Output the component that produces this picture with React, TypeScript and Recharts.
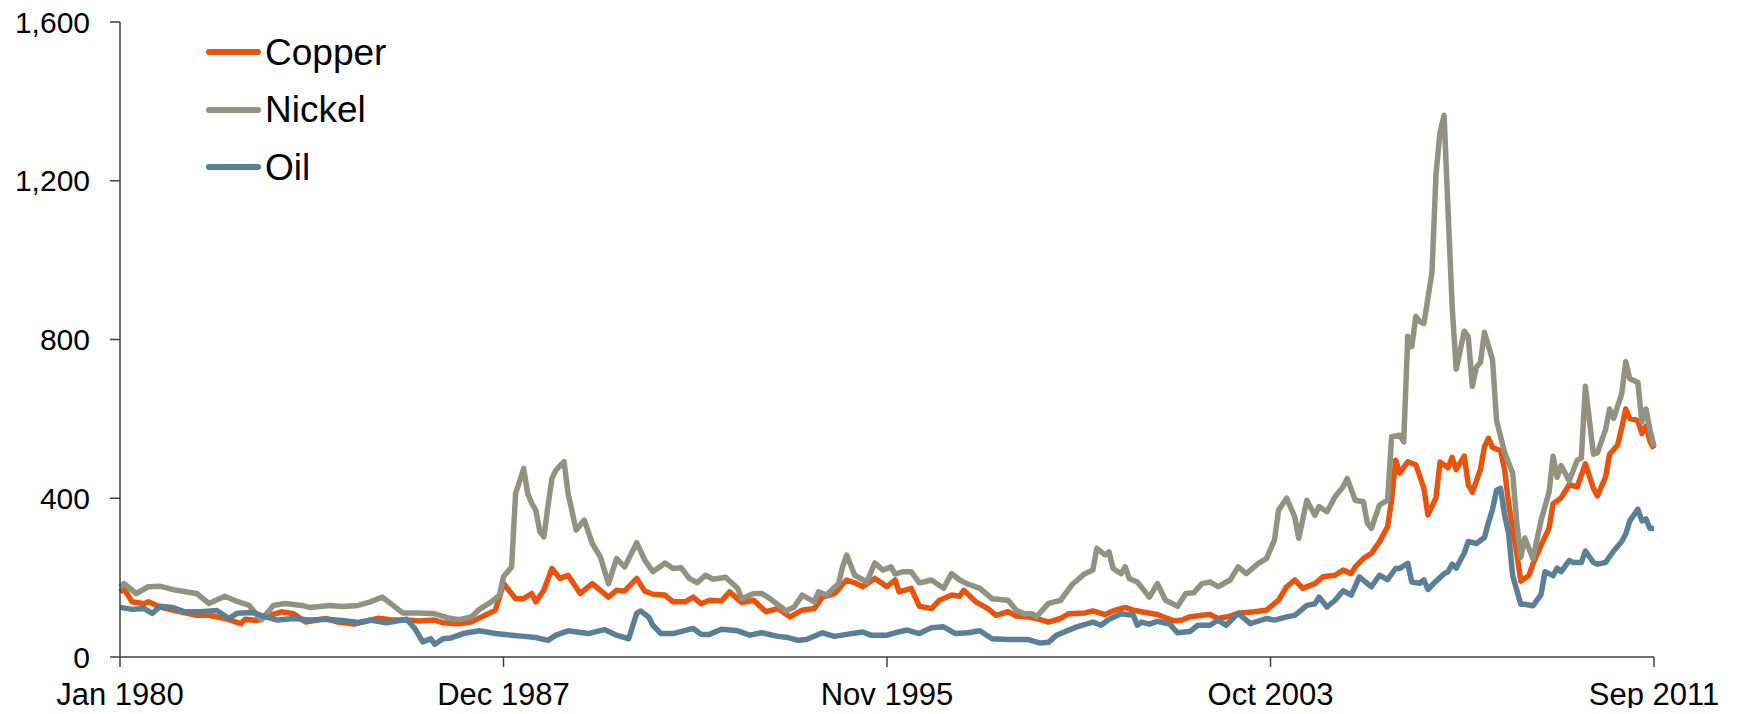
import { LineChart, Line, XAxis, YAxis } from 'recharts'

// month index counted from Jan 1980 (0) to Sep 2011 (380)
const TICK_MONTHS = [0, 95, 190, 285, 380]
const TICK_LABELS = ['Jan 1980', 'Dec 1987', 'Nov 1995', 'Oct 2003', 'Sep 2011']
const Y_TICKS = [0, 400, 800, 1200, 1600]

const copper: [number, number][] = [
  [0, 164], [1, 172], [3, 139], [6, 134], [7, 139], [10, 126], [15, 114], [19, 105], [22, 105],
  [26, 97], [30, 84], [31, 95], [34, 92], [36, 101], [40, 114], [43, 109], [46, 88], [51, 97],
  [54, 88], [58, 83], [61, 90], [64, 98], [67, 94], [71, 93], [74, 91], [78, 93], [80, 86],
  [84, 84], [87, 88], [90, 103], [93, 118], [95, 185], [98, 147], [100, 147], [102, 160],
  [103, 139], [105, 168], [107, 223], [109, 198], [111, 206], [114, 160], [117, 185], [119, 168],
  [121, 151], [123, 168], [125, 166], [128, 198], [130, 166], [132, 158], [135, 156], [137, 139],
  [140, 139], [142, 151], [144, 134], [146, 143], [149, 141], [151, 164], [154, 137], [157, 143],
  [160, 114], [163, 122], [166, 101], [169, 118], [172, 122], [174, 151], [177, 160], [180, 194],
  [182, 187], [184, 177], [187, 198], [190, 177], [192, 194], [193, 164], [196, 173], [198, 128],
  [201, 122], [203, 143], [206, 156], [208, 153], [209, 168], [212, 139], [215, 122], [217, 105],
  [220, 114], [222, 103], [225, 101], [228, 94], [230, 88], [233, 97], [235, 109], [239, 111],
  [241, 116], [244, 107], [246, 116], [249, 125], [251, 118], [253, 114], [257, 107], [259, 99],
  [261, 91], [263, 93], [265, 101], [268, 105], [270, 107], [272, 97], [275, 103], [277, 110],
  [281, 114], [284, 118], [287, 143], [289, 177], [291, 194], [293, 173], [296, 185], [298, 202],
  [301, 206], [303, 219], [305, 210], [306, 227], [308, 248], [310, 261], [312, 290], [314, 328],
  [315, 395], [316, 496], [317, 463], [319, 492], [321, 484], [322, 455], [323, 425], [324, 358],
  [326, 401], [327, 491], [329, 477], [330, 503], [331, 472], [333, 506], [334, 434], [335, 415],
  [337, 472], [338, 530], [339, 551], [340, 528], [342, 520], [343, 472], [344, 386], [346, 262],
  [347, 191], [349, 205], [350, 234], [352, 281], [354, 324], [355, 386], [357, 401], [359, 434],
  [361, 429], [363, 487], [365, 425], [366, 406], [368, 453], [369, 511], [371, 534], [372, 577],
  [373, 625], [374, 601], [376, 596], [377, 563], [378, 582], [379, 544], [380, 525],
]

const nickel: [number, number][] = [
  [0, 177], [1, 185], [4, 160], [7, 177], [10, 178], [14, 168], [19, 160], [22, 135], [26, 153],
  [29, 140], [32, 130], [35, 93], [38, 130], [41, 135], [45, 130], [47, 125], [52, 130], [55, 127],
  [59, 130], [62, 139], [65, 151], [67, 135], [70, 111], [74, 111], [78, 109], [81, 99], [84, 94],
  [87, 101], [89, 120], [92, 139], [94, 156], [95, 202], [97, 227], [98, 412], [100, 475],
  [101, 412], [102, 387], [103, 370], [104, 316], [105, 303], [106, 379], [107, 450], [108, 471],
  [110, 492], [111, 412], [113, 320], [115, 345], [117, 286], [119, 252], [121, 185], [123, 248],
  [125, 227], [128, 288], [130, 244], [132, 215], [134, 229], [135, 237], [137, 223], [139, 225],
  [141, 198], [143, 187], [145, 206], [147, 196], [150, 201], [153, 173], [154, 147], [157, 160],
  [159, 160], [161, 147], [165, 116], [167, 126], [169, 156], [172, 139], [173, 164], [175, 156],
  [178, 185], [179, 227], [180, 257], [182, 206], [185, 189], [187, 237], [189, 219], [191, 227],
  [192, 209], [194, 215], [196, 215], [198, 187], [199, 189], [201, 194], [204, 173], [206, 210],
  [208, 194], [210, 184], [213, 173], [216, 147], [220, 143], [222, 118], [224, 109], [226, 109],
  [227, 101], [230, 135], [233, 143], [236, 184], [239, 210], [241, 219], [242, 274], [244, 257],
  [245, 265], [246, 223], [248, 210], [249, 227], [250, 198], [252, 189], [255, 151], [257, 185],
  [259, 143], [262, 128], [264, 160], [266, 162], [268, 185], [270, 189], [272, 177], [275, 194],
  [277, 227], [279, 210], [282, 236], [284, 248], [286, 295], [287, 370], [289, 400], [291, 353],
  [292, 299], [294, 395], [296, 357], [297, 379], [299, 366], [301, 404], [303, 429], [304, 450],
  [306, 395], [308, 391], [309, 337], [310, 324], [312, 383], [314, 395], [315, 555], [317, 559],
  [318, 542], [319, 808], [320, 782], [321, 858], [322, 845], [323, 840], [325, 969], [326, 1217],
  [327, 1322], [328, 1365], [329, 1121], [330, 883], [331, 725], [333, 821], [334, 806], [335, 682],
  [336, 730], [337, 742], [338, 818], [340, 749], [341, 596], [343, 515], [345, 463], [346, 339],
  [347, 251], [348, 300], [350, 248], [352, 343], [354, 415], [355, 506], [356, 453], [357, 482],
  [359, 444], [361, 496], [362, 501], [363, 682], [365, 511], [366, 515], [368, 573], [369, 625],
  [370, 601], [372, 663], [373, 744], [374, 701], [376, 692], [377, 592], [378, 625], [379, 573],
  [380, 530],
]

const oil: [number, number][] = [
  [0, 125], [3, 120], [6, 122], [8, 110], [10, 128], [13, 125], [16, 114], [20, 114], [24, 117],
  [27, 97], [29, 110], [33, 112], [35, 105], [39, 93], [43, 97], [47, 93], [51, 95], [55, 92],
  [59, 87], [62, 93], [66, 86], [71, 95], [73, 72], [75, 38], [77, 46], [78, 32], [80, 46],
  [82, 48], [85, 59], [89, 66], [93, 59], [97, 55], [100, 52], [103, 49], [106, 42], [108, 55],
  [111, 66], [116, 59], [120, 69], [123, 55], [126, 46], [128, 110], [129, 116], [131, 100],
  [132, 80], [134, 59], [137, 59], [142, 72], [144, 57], [146, 57], [149, 70], [153, 66], [156, 55],
  [159, 61], [163, 52], [165, 50], [168, 42], [170, 44], [174, 61], [177, 52], [180, 57], [184, 63],
  [186, 55], [190, 55], [192, 61], [195, 68], [198, 59], [201, 74], [204, 76], [207, 59], [210, 61],
  [213, 66], [216, 46], [220, 44], [225, 44], [228, 35], [230, 37], [232, 55], [237, 76], [241, 88],
  [243, 80], [245, 95], [248, 109], [251, 105], [252, 80], [253, 88], [255, 83], [257, 90],
  [260, 83], [262, 61], [265, 64], [267, 80], [270, 80], [272, 93], [274, 80], [277, 110], [280, 84],
  [284, 97], [286, 93], [289, 101], [291, 105], [294, 130], [296, 134], [297, 151], [299, 126],
  [301, 143], [303, 167], [305, 156], [307, 202], [310, 177], [312, 206], [314, 195], [316, 223],
  [317, 223], [319, 236], [320, 189], [322, 186], [323, 194], [324, 170], [326, 191], [328, 210],
  [329, 215], [330, 234], [331, 224], [333, 262], [334, 291], [336, 286], [338, 301], [339, 339],
  [340, 372], [341, 420], [342, 425], [343, 358], [344, 310], [345, 205], [347, 133], [348, 133],
  [350, 129], [352, 157], [353, 215], [355, 205], [356, 224], [357, 215], [359, 243], [360, 238],
  [362, 238], [363, 267], [365, 238], [366, 234], [368, 238], [370, 267], [372, 291], [373, 310],
  [374, 343], [376, 372], [377, 343], [378, 348], [379, 324], [380, 324],
]

const SERIES = [
  { name: 'Copper', color: '#E8540D', points: copper },
  { name: 'Nickel', color: '#929283', points: nickel },
  { name: 'Oil', color: '#5B7F95', points: oil },
]

const FONT = '"Liberation Sans", Arial, sans-serif'
const AXIS_COLOR = '#404040'

function toRows(points: [number, number][]) {
  return points.map(([m, v]) => ({ m, v }))
}

// legend is drawn as an overlay so it does not take room from the plot
function ChartLegend() {
  return (
    <div style={{ position: 'absolute', left: 198, top: 15.5, fontFamily: FONT }}>
      {SERIES.map(s => (
        <div key={s.name} style={{ display: 'flex', alignItems: 'center', height: 57.6 }}>
          <div style={{ width: 55, height: 6, borderRadius: 3, background: s.color }} />
          <span style={{ marginLeft: 4, fontSize: 37, lineHeight: 1, color: '#000' }}>{s.name}</span>
        </div>
      ))}
    </div>
  )
}

export default function App() {
  return (
    <div style={{ width: 1721, height: 700, fontFamily: FONT, position: 'relative' }}>
      <style>{'.recharts-surface { overflow: visible; }'}</style>
      <LineChart width={1721} height={700} margin={{ top: 14, right: 75, left: 0, bottom: 6 }}>
        <XAxis
          type="number"
          dataKey="m"
          domain={[0, 380]}
          ticks={TICK_MONTHS}
          interval={0}
          tickFormatter={(m: number) => TICK_LABELS[TICK_MONTHS.indexOf(m)]}
          height={45}
          tickSize={10}
          tickMargin={16}
          axisLine={{ stroke: AXIS_COLOR, strokeWidth: 1.5 }}
          tickLine={{ stroke: AXIS_COLOR, strokeWidth: 1.5 }}
          tick={{ fontSize: 31, fill: '#000', fontFamily: FONT }}
        />
        <YAxis
          type="number"
          domain={[0, 1600]}
          ticks={Y_TICKS}
          interval={0}
          width={112}
          tickSize={10}
          tickMargin={20}
          tickFormatter={(v: number) => v.toLocaleString('en-US')}
          axisLine={{ stroke: AXIS_COLOR, strokeWidth: 1.5 }}
          tickLine={{ stroke: AXIS_COLOR, strokeWidth: 1.5 }}
          tick={{ fontSize: 30, fill: '#000', fontFamily: FONT }}
        />
        {SERIES.map(s => (
          <Line
            key={s.name}
            data={toRows(s.points)}
            dataKey="v"
            name={s.name}
            type="linear"
            stroke={s.color}
            strokeWidth={5.5}
            strokeLinejoin="round"
            dot={false}
            activeDot={false}
            isAnimationActive={false}
          />
        ))}
      </LineChart>
      <ChartLegend />
    </div>
  )
}
